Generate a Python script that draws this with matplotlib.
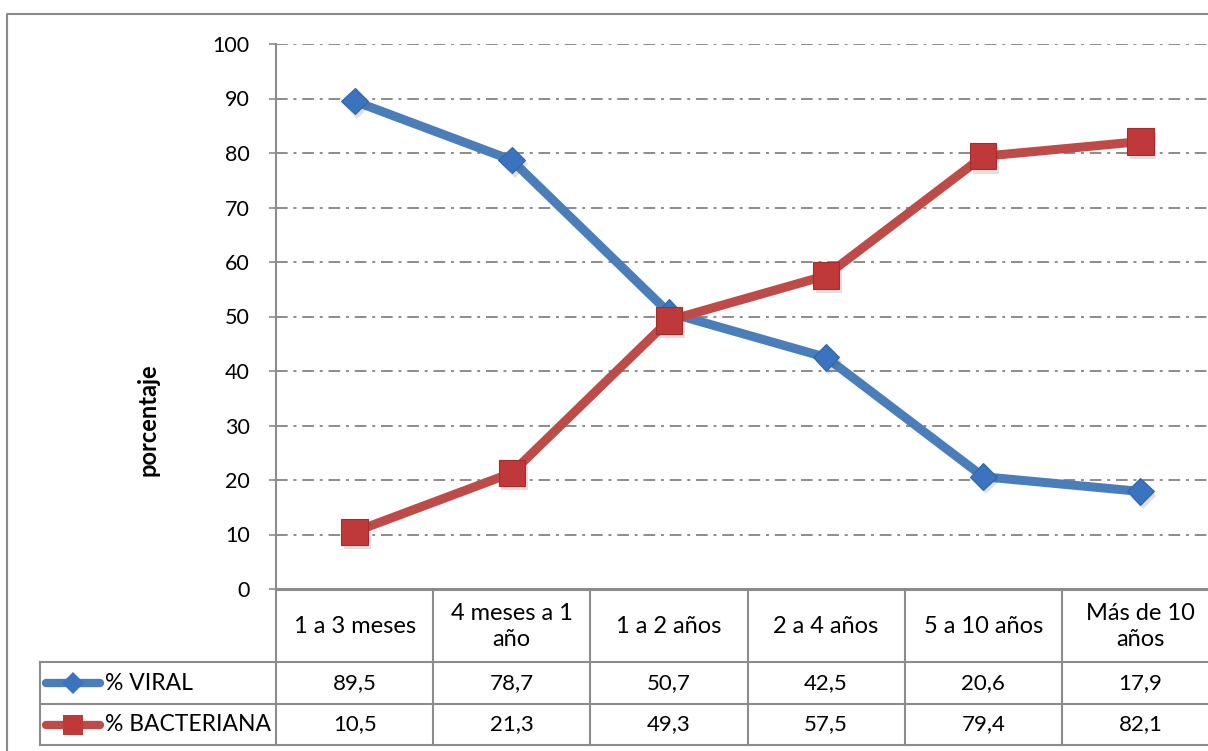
import matplotlib
matplotlib.use("Agg")
import matplotlib.pyplot as plt
import matplotlib.patheffects as pe
from matplotlib.lines import Line2D
from matplotlib.transforms import blended_transform_factory

categories = ["1 a 3 meses", "4 meses a 1\naño", "1 a 2 años", "2 a 4 años",
              "5 a 10 años", "Más de 10\naños"]
viral = [89.5, 78.7, 50.7, 42.5, 20.6, 17.9]
bacteriana = [10.5, 21.3, 49.3, 57.5, 79.4, 82.1]
series_names = ["% VIRAL", "% BACTERIANA"]
y_label = "porcentaje"
y_ticks = list(range(0, 101, 10))

plt.rcParams["font.family"] = ["Lato", "DejaVu Sans"]

W, H = 1208, 751
fig = plt.figure(figsize=(W / 100, H / 100), dpi=100)
fig.patch.set_facecolor("white")


def fx(px):
    return px / W


def fy(py):
    return 1 - py / H


# plot area (extends past the right edge of the canvas)
left, right, top, bottom = 276, 1219, 44, 589
ax = fig.add_axes([fx(left), fy(bottom), fx(right - left), (bottom - top) / H])
ax.set_xlim(-0.5, len(categories) - 0.5)
ax.set_ylim(0, 100)
ax.set_yticks(y_ticks)
ax.set_xticks([])
grid_col = "#8c8c8c"
for s in ["top", "right", "bottom"]:
    ax.spines[s].set_visible(False)
ax.spines["left"].set_color(grid_col)
ax.spines["left"].set_linewidth(1.5)
ax.tick_params(axis="y", colors=grid_col, length=5, width=1.2, pad=14,
               labelcolor="black", labelsize=15.5)
ax.yaxis.grid(True, color=grid_col, linestyle=(0, (6, 3, 1.5, 3)), linewidth=1.4)
ax.set_axisbelow(True)

blue, blue_m = "#4a7ebb", "#3a74bf"
red, red_m = "#be4b48", "#c0393a"
x = list(range(len(categories)))

shadow = [pe.SimplePatchShadow(offset=(2, -3), alpha=0.18, shadow_rgbFace="#555555"),
          pe.Normal()]

ax.plot(x, viral, color=blue, lw=6.5, solid_capstyle="round", zorder=3)
ax.plot(x, viral, ls="none", marker="D", ms=13.5, color=blue_m,
        markeredgecolor="#2f66a8", markeredgewidth=0.8, zorder=4,
        path_effects=shadow)
ax.plot(x, bacteriana, color=red, lw=6.5, solid_capstyle="round", zorder=5)
ax.plot(x, bacteriana, ls="none", marker="s", ms=19, color=red_m,
        markeredgecolor="#a52c2c", markeredgewidth=0.8, zorder=6,
        path_effects=shadow)

# y axis title
fig.text(fx(148), fy(420), y_label, rotation=90, ha="center", va="center",
         fontsize=17, fontweight="bold")

# data table below the plot area
tr = blended_transform_factory(ax.transData, fig.transFigure)
tab_left = 40
row_top, row_hdr, row_mid, row_bot = 589, 662, 704, 745
lw_t = 1.5
# horizontal rules
fig.add_artist(Line2D([fx(left), 1.0], [fy(row_top)] * 2, color=grid_col, lw=2.2))
for yy in (row_hdr, row_mid, row_bot):
    fig.add_artist(Line2D([fx(tab_left), 1.0], [fy(yy)] * 2, color=grid_col, lw=lw_t))
# vertical rules
for k in range(len(categories) + 1):
    fig.add_artist(Line2D([k - 0.5, k - 0.5], [fy(row_top), fy(row_bot)],
                          transform=tr, color=grid_col, lw=lw_t))
fig.add_artist(Line2D([fx(tab_left)] * 2, [fy(row_hdr), fy(row_bot)],
                      color=grid_col, lw=lw_t))

fs_cat, fs_num = 17, 16
for i, cat in enumerate(categories):
    fig.text(i, fy((row_top + row_hdr) / 2 + 1), cat, transform=tr, ha="center",
             va="center", fontsize=fs_cat, linespacing=1.35)
    fig.text(i, fy((row_hdr + row_mid) / 2), f"{viral[i]:.1f}".replace(".", ","),
             transform=tr, ha="center", va="center", fontsize=fs_num)
    fig.text(i, fy((row_mid + row_bot) / 2), f"{bacteriana[i]:.1f}".replace(".", ","),
             transform=tr, ha="center", va="center", fontsize=fs_num)

# legend keys inside the table
for name, col, mcol, mk, ms, yy in [
        (series_names[0], blue, blue_m, "D", 11, (row_hdr + row_mid) / 2),
        (series_names[1], red, red_m, "s", 15, (row_mid + row_bot) / 2)]:
    fig.add_artist(Line2D([fx(46), fx(100)], [fy(yy)] * 2, color=col, lw=6,
                          solid_capstyle="round"))
    fig.add_artist(Line2D([fx(73)], [fy(yy)], ls="none", marker=mk, ms=ms,
                          color=mcol, markeredgewidth=0))
    fig.text(fx(105), fy(yy), name, ha="left", va="center", fontsize=16.5)

# chart frame
fig.add_artist(Line2D([fx(7), fx(7), 1.0], [0.0, fy(14), fy(14)],
                      color="#8a8a8a", lw=1.5))

fig.savefig("out.png", dpi=100, facecolor="white")
